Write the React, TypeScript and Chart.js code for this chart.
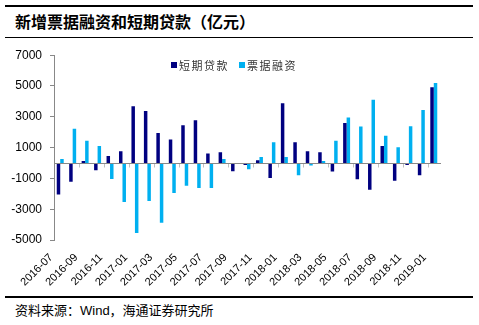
import React, { useEffect, useRef } from "react";
import { Chart, registerables } from "chart.js";

Chart.register(...registerables);

const months = [
  "2016-07", "2016-08", "2016-09", "2016-10", "2016-11", "2016-12",
  "2017-01", "2017-02", "2017-03", "2017-04", "2017-05", "2017-06",
  "2017-07", "2017-08", "2017-09", "2017-10", "2017-11", "2017-12",
  "2018-01", "2018-02", "2018-03", "2018-04", "2018-05", "2018-06",
  "2018-07", "2018-08", "2018-09", "2018-10", "2018-11", "2018-12",
  "2019-01",
];

const shortLoans = [
  -2050, -1210, 137, -473, 452, 767, 3687, 3372, 1943, 1523, 2447, 2784,
  620, 704, -536, -137, 180, -977, 3876, 1355, 767, 704, -557, 2595,
  -1061, -1733, 1103, -1145, -137, -788, 4926,
];

const billFinancing = [
  263, 2216, 1440, 1100, -1040, -2530, -4550, -2470, -3876, -1943, -1480, -1630,
  -1630, 263, -50, -410, 390, 1355, 390, -788, -158, 137, 1440, 2952,
  2363, 4107, 1775, 1019, 2384, 3435, 5200,
];

const yTicks = [-5000, -3000, -1000, 1000, 3000, 5000, 7000];
const seriesNames = ["短期贷款", "票据融资"];
const seriesColors = ["#000080", "#00B0F0"];
const titleText = "新增票据融资和短期贷款（亿元）";
const sourceText = "资料来源：Wind，海通证券研究所";

const zeroLinePlugin = {
  id: "zeroLine",
  afterDatasetsDraw(chart: any) {
    const { ctx, chartArea, scales } = chart;
    const xs = scales.x;
    const y0 = Math.round(scales.y.getPixelForValue(0)) + 0.5;
    ctx.save();
    ctx.lineWidth = 1;
    ctx.strokeStyle = "#c0c0c0";
    ctx.beginPath();
    const n = chart.data.labels.length;
    for (let k = 2; k < n; k += 2) {
      const x = Math.round((xs.getPixelForValue(k - 1) + xs.getPixelForValue(k)) / 2) + 0.5;
      ctx.moveTo(x, y0);
      ctx.lineTo(x, y0 + 4);
    }
    ctx.stroke();
    ctx.strokeStyle = "#888888";
    ctx.beginPath();
    ctx.moveTo(chartArea.left, y0);
    ctx.lineTo(chartArea.right + 1, y0);
    ctx.stroke();
    ctx.restore();
  },
};

export default function App() {
  const canvasRef = useRef<HTMLCanvasElement>(null);

  useEffect(() => {
    if (!canvasRef.current) return;
    const chart = new Chart(canvasRef.current, {
      type: "bar",
      data: {
        labels: months,
        datasets: [
          {
            label: seriesNames[0],
            data: shortLoans,
            backgroundColor: seriesColors[0],
            borderWidth: 0,
            categoryPercentage: 0.56,
            barPercentage: 1.0,
          },
          {
            label: seriesNames[1],
            data: billFinancing,
            backgroundColor: seriesColors[1],
            borderWidth: 0,
            categoryPercentage: 0.56,
            barPercentage: 1.0,
          },
        ],
      },
      options: {
        responsive: false,
        animation: false,
        layout: { padding: { top: 11, right: 39, left: 0, bottom: 0 } },
        plugins: {
          legend: { display: false },
          title: { display: false },
          tooltip: { enabled: false },
        },
        scales: {
          x: {
            grid: { display: false, drawTicks: false },
            border: { display: false },
            ticks: {
              autoSkip: false,
              maxRotation: 45,
              minRotation: 45,
              padding: 11,
              labelOffset: -9,
              color: "#000",
              font: { size: 11, family: "Arial, 'Liberation Sans', sans-serif" },
              callback: (_v: any, i: number) => (i % 2 === 0 ? months[i] : ""),
            },
            afterFit: (scale: any) => {
              scale.height = 55;
            },
          },
          y: {
            min: -5000,
            max: 7000,
            afterBuildTicks: (scale: any) => {
              scale.ticks = yTicks.map((v) => ({ value: v }));
            },
            grid: {
              display: true,
              drawOnChartArea: false,
              drawTicks: true,
              tickLength: 4,
              color: "#888888",
            },
            border: { display: true, color: "#888888" },
            ticks: {
              color: "#000",
              padding: 8,
              font: { size: 12, family: "Arial, 'Liberation Sans', sans-serif" },
              callback: (v: any) => String(v),
            },
            afterFit: (scale: any) => {
              scale.width = 54;
            },
          },
        },
      },
      plugins: [zeroLinePlugin],
    });
    return () => chart.destroy();
  }, []);

  const legendText: React.CSSProperties = {
    position: "absolute",
    top: 57,
    fontSize: 11,
    lineHeight: "16px",
    letterSpacing: "1.5px",
    color: "#333",
    fontFamily: "'Noto Sans CJK SC', sans-serif",
    whiteSpace: "nowrap",
  };

  return (
    <div
      style={{
        position: "absolute",
        left: 0,
        top: 0,
        width: 479,
        height: 325,
        background: "#fff",
        overflow: "hidden",
      }}
    >
      <div style={{ position: "absolute", left: 5, top: 5, width: 468, height: 1.5, background: "#000" }} />
      <div
        style={{
          position: "absolute",
          left: 15,
          top: 11,
          fontSize: 16,
          lineHeight: "20px",
          fontWeight: "bold",
          color: "#000",
          fontFamily: "'Noto Sans CJK SC', sans-serif",
          whiteSpace: "nowrap",
        }}
      >
        {titleText}
      </div>
      <div style={{ position: "absolute", left: 5, top: 36.5, width: 468, height: 1.5, background: "#000" }} />

      <canvas
        ref={canvasRef}
        width={479}
        height={255}
        style={{ position: "absolute", left: 0, top: 40, width: 479, height: 255 }}
      />

      <div style={{ position: "absolute", left: 171, top: 62, width: 6, height: 6, background: seriesColors[0] }} />
      <div style={{ ...legendText, left: 179 }}>{seriesNames[0]}</div>
      <div style={{ position: "absolute", left: 239, top: 62, width: 6, height: 6, background: seriesColors[1] }} />
      <div style={{ ...legendText, left: 247 }}>{seriesNames[1]}</div>

      <div style={{ position: "absolute", left: 5, top: 296, width: 468, height: 1.5, background: "#000" }} />
      <div
        style={{
          position: "absolute",
          left: 15,
          top: 302,
          fontSize: 13,
          lineHeight: "18px",
          color: "#000",
          fontFamily: "'Liberation Sans', Arial, 'Noto Sans CJK SC', sans-serif",
          whiteSpace: "nowrap",
        }}
      >
        {sourceText}
      </div>
    </div>
  );
}
